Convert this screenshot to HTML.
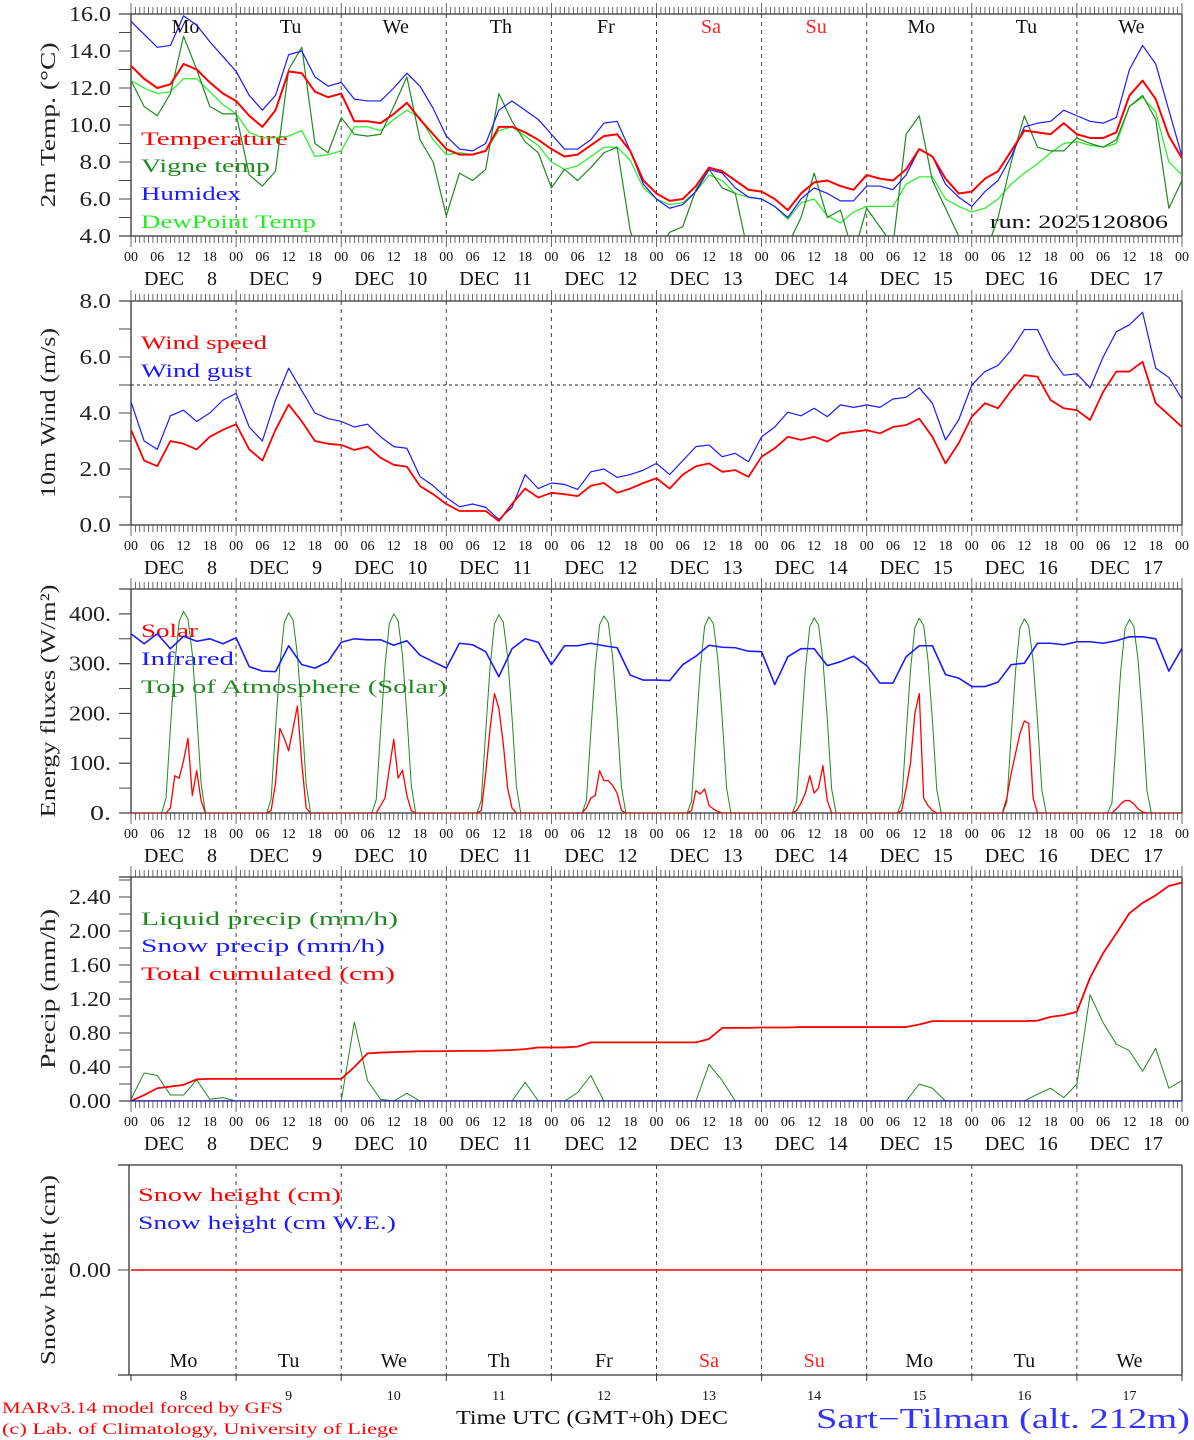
<!DOCTYPE html>
<html><head><meta charset="utf-8"><style>
html,body{margin:0;padding:0;background:#fff;}
svg{display:block;font-family:"Liberation Serif",serif;}
</style></head><body>
<svg id="chart" xmlns="http://www.w3.org/2000/svg" width="1194" height="1440" viewBox="0 0 1194 1440">
<rect x="0" y="0" width="1194" height="1440" fill="#fff"/>
</svg>
<script>
// ===== DATA (3-hourly unless noted) =====
const dayNums = [8,9,10,11,12,13,14,15,16,17];
const weekdays = ["Mo","Tu","We","Th","Fr","Sa","Su","Mo","Tu","We"];
const hourTicks = ["00","06","12","18"];
const tempTicks = [4,6,8,10,12,14,16];
const windTicks = [0,2,4,6,8];
const fluxTicks = [0,100,200,300,400];
const precipTicks = [0,0.4,0.8,1.2,1.6,2.0,2.4];

const temperature = [13.2,12.5,12.0,12.2,13.3,13.0,12.3,11.7,
 11.3,10.5,9.9,10.8,12.9,12.8,11.8,11.5,
 11.7,10.2,10.2,10.1,10.6,11.2,10.3,9.5,
 8.7,8.4,8.4,8.6,9.9,9.9,9.6,9.2,
 8.7,8.3,8.4,8.9,9.4,9.5,8.6,7.0,
 6.3,5.9,6.0,6.7,7.7,7.5,7.0,6.5,
 6.4,6.0,5.4,6.3,6.9,7.0,6.7,6.5,
 7.3,7.1,7.0,7.6,8.7,8.3,7.1,6.3,
 6.4,7.1,7.5,8.6,9.7,9.6,9.5,10.1,
 9.5,9.3,9.3,9.6,11.6,12.4,11.4,9.4,8.2];
const humidex = [15.6,14.9,14.2,14.3,15.9,15.4,14.5,13.7,
 12.9,11.6,10.8,11.6,13.8,14.0,12.6,12.1,
 12.3,11.4,11.3,11.3,12.0,12.8,12.1,10.9,
 9.4,8.7,8.6,9.0,10.8,11.3,10.8,10.3,
 9.5,8.7,8.7,9.2,10.1,10.2,8.6,6.8,
 6.0,5.5,5.7,6.4,7.6,7.4,6.6,6.1,
 6.0,5.6,5.0,6.0,6.6,6.3,5.9,5.9,
 6.7,6.7,6.5,7.3,8.7,8.3,6.8,6.1,
 5.6,6.4,7.0,8.3,9.9,10.1,10.2,10.8,
 10.5,10.2,10.1,10.4,13.0,14.3,13.3,10.8,8.3];
const dewpoint = [12.4,12.0,11.7,11.8,12.5,12.5,11.8,11.1,
 10.6,9.6,9.3,9.3,9.4,9.7,8.3,8.4,
 8.6,9.9,9.9,9.7,10.3,10.8,10.4,9.2,
 8.4,8.5,8.4,8.6,9.7,9.9,9.4,8.9,
 8.0,7.6,7.8,8.3,8.8,8.8,8.1,6.6,
 6.0,5.7,5.8,6.4,7.3,7.0,6.3,6.1,
 6.0,5.6,4.9,5.8,6.0,5.1,4.7,5.3,
 5.6,5.6,5.6,6.8,7.2,7.2,6.0,5.6,
 5.3,5.5,6.0,6.8,7.4,7.9,8.5,9.0,
 9.1,8.9,8.8,9.0,11.0,11.5,10.7,8.0,7.3];
const vigne = [12.4,11.0,10.5,11.7,14.8,13.0,11.0,10.6,
 10.6,7.3,6.7,7.5,13.0,14.2,9.0,8.5,
 10.4,9.5,9.4,9.5,11.0,12.6,9.2,8.0,
 5.1,7.4,7.0,7.6,11.7,10.2,9.1,8.5,
 6.6,7.6,7.0,7.7,8.5,8.8,4.3,2.0,
 3.0,4.2,4.5,6.5,7.6,6.6,6.3,3.0,
 4.0,2.0,3.5,5.0,7.4,5.0,5.4,3.0,
 5.5,4.5,3.5,9.5,10.5,7.0,5.5,4.0,
 3.0,3.0,5.0,8.0,10.5,8.8,8.6,8.6,
 9.3,9.0,8.8,9.2,11.0,11.6,10.3,5.5,7.0];

const windSpeed = [3.4,2.3,2.1,3.0,2.9,2.7,3.15,3.4,
 3.6,2.7,2.3,3.4,4.3,3.7,3.0,2.9,
 2.86,2.68,2.8,2.4,2.15,2.08,1.39,1.1,
 0.75,0.5,0.5,0.5,0.14,0.75,1.3,0.98,
 1.15,1.1,1.03,1.4,1.5,1.15,1.3,1.5,
 1.67,1.3,1.8,2.1,2.2,1.9,1.96,1.72,
 2.44,2.74,3.15,3.04,3.15,2.98,3.27,3.33,
 3.39,3.27,3.5,3.57,3.8,3.15,2.2,2.92,
 3.87,4.35,4.17,4.8,5.35,5.3,4.46,4.17,
 4.1,3.75,4.76,5.48,5.48,5.83,4.35,3.93,3.5];
const windGust = [4.4,3.0,2.7,3.9,4.1,3.7,4.0,4.46,
 4.7,3.5,3.0,4.46,5.6,4.8,4.0,3.8,
 3.7,3.5,3.6,3.15,2.8,2.74,1.73,1.4,
 0.98,0.65,0.75,0.63,0.2,0.63,1.8,1.3,
 1.5,1.45,1.27,1.9,2.0,1.7,1.8,1.96,
 2.2,1.8,2.3,2.8,2.86,2.44,2.56,2.26,
 3.15,3.5,4.03,3.9,4.17,3.87,4.29,4.2,
 4.29,4.2,4.5,4.56,4.9,4.35,3.04,3.75,
 5.0,5.48,5.7,6.25,6.98,6.98,6.0,5.35,
 5.4,4.9,6.0,6.9,7.15,7.6,5.6,5.27,4.5];

const infrared = [360,340,360,330,355,345,350,340,
 352,294,285,284,336,298,291,304,
 343,350,348,348,337,346,317,304,
 291,341,338,324,274,330,350,343,
 298,336,336,341,336,332,277,267,
 267,266,298,315,337,333,332,325,
 324,258,314,330,330,296,304,315,
 296,261,261,314,336,336,278,271,
 254,254,263,298,301,341,341,338,
 344,344,341,346,354,354,350,285,331];

// hourly (24 per day + final)
const toaSolar = [
 0,0,0,0,0,0,0,0,30,170,300,385,405,390,320,200,60,0,0,0,0,0,0,0,
 0,0,0,0,0,0,0,0,28,168,298,383,402,388,318,198,58,0,0,0,0,0,0,0,
 0,0,0,0,0,0,0,0,27,166,296,381,400,386,316,196,56,0,0,0,0,0,0,0,
 0,0,0,0,0,0,0,0,26,164,294,380,398,384,314,194,54,0,0,0,0,0,0,0,
 0,0,0,0,0,0,0,0,25,162,292,378,396,382,312,192,52,0,0,0,0,0,0,0,
 0,0,0,0,0,0,0,0,24,160,290,376,394,380,310,190,50,0,0,0,0,0,0,0,
 0,0,0,0,0,0,0,0,23,158,288,374,392,378,308,188,48,0,0,0,0,0,0,0,
 0,0,0,0,0,0,0,0,22,157,287,373,391,377,307,187,47,0,0,0,0,0,0,0,
 0,0,0,0,0,0,0,0,21,156,286,372,390,376,306,186,46,0,0,0,0,0,0,0,
 0,0,0,0,0,0,0,0,20,155,285,371,389,375,305,185,45,0,0,0,0,0,0,0,0];
const solar = [
 0,0,0,0,0,0,0,0,0,10,75,70,105,150,35,85,25,0,0,0,0,0,0,0,
 0,0,0,0,0,0,0,0,5,60,170,150,125,170,215,100,10,0,0,0,0,0,0,0,
 0,0,0,0,0,0,0,0,0,15,30,90,148,70,86,35,5,0,0,0,0,0,0,0,
 0,0,0,0,0,0,0,0,5,80,170,240,210,140,50,10,0,0,0,0,0,0,0,0,
 0,0,0,0,0,0,0,0,10,30,35,85,65,65,55,40,5,0,0,0,0,0,0,0,
 0,0,0,0,0,0,0,0,5,45,38,48,15,8,3,0,0,0,0,0,0,0,0,0,
 0,0,0,0,0,0,0,0,5,20,40,75,40,50,95,25,0,0,0,0,0,0,0,0,
 0,0,0,0,0,0,0,0,5,50,100,200,240,30,15,5,0,0,0,0,0,0,0,0,
 0,0,0,0,0,0,0,0,30,80,120,160,185,180,30,0,0,0,0,0,0,0,0,0,
 0,0,0,0,0,0,0,0,0,8,18,25,25,18,8,2,0,0,0,0,0,0,0,0,0];

const liquidPrecip = [0.02,0.33,0.30,0.07,0.07,0.25,0.02,0.04,
 0,0,0,0,0,0,0,0,
 0,0.93,0.24,0.02,0,0.09,0,0,
 0,0,0,0,0,0,0.22,0,
 0,0,0.10,0.30,0,0,0,0,
 0,0,0,0,0.43,0.24,0,0,
 0,0,0,0,0,0,0,0,
 0,0,0,0,0.2,0.15,0,0,
 0,0,0,0,0,0.08,0.15,0.04,
 0.2,1.25,0.92,0.67,0.59,0.35,0.62,0.15,0.24];
const cumulated = [0,0.07,0.15,0.17,0.19,0.255,0.26,0.26,
 0.26,0.26,0.26,0.26,0.26,0.26,0.26,0.26,
 0.26,0.40,0.56,0.57,0.575,0.58,0.585,0.585,
 0.587,0.59,0.59,0.59,0.595,0.60,0.61,0.63,
 0.63,0.63,0.64,0.69,0.69,0.69,0.69,0.69,
 0.69,0.69,0.69,0.69,0.73,0.86,0.86,0.86,
 0.865,0.865,0.865,0.87,0.87,0.87,0.87,0.87,
 0.87,0.87,0.87,0.87,0.90,0.94,0.94,0.94,
 0.94,0.94,0.94,0.94,0.94,0.945,0.99,1.01,
 1.05,1.45,1.74,1.97,2.21,2.33,2.42,2.53,2.57];
const snowPrecip = [0,0,0,0,0,0,0,0,0,0,0];
const snowHeight = [0,0,0,0,0,0,0,0,0,0,0];

// ===== LAYOUT =====
const svg = document.getElementById('chart');
const NS = 'http://www.w3.org/2000/svg';
const X0 = 131, X1 = 1182, HOURS = 240;
function xAt(h){ return X0 + h*(X1-X0)/HOURS; }
const panels = {
  temp:{top:14,bot:236,min:4,max:16},
  wind:{top:301,bot:525,min:0,max:8},
  flux:{top:589,bot:813,min:0,max:450},
  prec:{top:877,bot:1101,min:0,max:(1101-877)/85},
  snow:{top:1165,bot:1375,min:-1,max:1}
};
function yScale(p){ return v => p.bot - (v-p.min)*(p.bot-p.top)/(p.max-p.min); }

function mk(tag, name, interact, attrs, parent){
  const el = document.createElementNS(NS, tag);
  
  
  for (const k in attrs) el.setAttribute(k, attrs[k]);
  (parent||svg).appendChild(el);
  return el;
}
function txt(str, name, attrs, parent){
  const t = mk('text', name, 'false', attrs, parent);
  t.textContent = str;
  return t;
}
function line(name, x1,y1,x2,y2, stroke, w, dash, parent){
  const a = {x1:x1,y1:y1,x2:x2,y2:y2,stroke:stroke,'stroke-width':w||1};
  if (dash) a['stroke-dasharray']=dash;
  return mk('line', name, 'false', a, parent);
}
function series(arr, stepH, p, color, width, name, clipId){
  const y = yScale(p);
  const pts = arr.map((v,i)=> xAt(i*stepH).toFixed(2)+','+y(v).toFixed(2)).join(' ');
  const pl = mk('polyline', name, 'false', {points:pts, fill:'none', stroke:color, 'stroke-width':width, 'stroke-linejoin':'round', 'clip-path':'url(#'+clipId+')'});
  return pl;
}

const defs = document.createElementNS(NS,'defs');
svg.appendChild(defs);
function clip(id,p){
  const c = document.createElementNS(NS,'clipPath'); c.setAttribute('id',id);
  const r = document.createElementNS(NS,'rect');
  r.setAttribute('x',X0); r.setAttribute('y',p.top); r.setAttribute('width',X1-X0); r.setAttribute('height',p.bot-p.top);
  c.appendChild(r); defs.appendChild(c);
}
function yTitle(str, cy, len, g){
  txt(str, 'y-axis-title', {x:0, y:0, 'font-size':21, 'text-anchor':'middle', fill:'#222', textLength:len, lengthAdjust:'spacingAndGlyphs', transform:'translate(55,'+cy+') rotate(-90)'}, g);
}
function tickLabel(str, yy, g){
  txt(str, 'y-tick-label', {x:111, y:yy+7, 'font-size':21, 'text-anchor':'end', fill:'#222', textLength:str.length*10.5, lengthAdjust:'spacingAndGlyphs'}, g);
}

function frame(key, p, ticks, minorStep, fmt, title, titleLen, withHours){
  const y = yScale(p);
  const g = mk('g', key+'-panel', 'false', {});
  clip('clip-'+key, p);
  for (let d=1; d<10; d++){
    line('day-divider', xAt(d*24), p.top, xAt(d*24), p.bot, '#444', 1, '4,4', g);
  }
  line('top-axis', 119, p.top, X1, p.top, '#333', 1.3, null, g);
  line('bottom-axis', 119, p.bot, X1, p.bot, '#333', 1.3, null, g);
  line('left-axis', X0, p.top, X0, p.bot, '#333', 1.3, null, g);
  line('right-axis', X1, p.top, X1, p.bot, '#333', 1.3, null, g);
  if (withHours){
    for (let h=0; h<=HOURS; h++){
      const len = (h%24===0)?11:7;
      line('x-tick', xAt(h), p.top-len, xAt(h), p.top, '#444', 0.8, null, g);
      line('x-tick', xAt(h), p.bot, xAt(h), p.bot+len, '#444', 0.8, null, g);
    }
    for (let d=0; d<=10; d++){
      for (let k=0; k<4; k++){
        if (d===10 && k>0) break;
        txt(hourTicks[k], 'hour-label', {x:xAt(d*24+k*6), y:p.bot+25, 'font-size':14, 'text-anchor':'middle', fill:'#111'}, g);
      }
    }
    for (let d=0; d<10; d++){
      txt('DEC', 'date-label', {x:xAt(d*24)+33, y:p.bot+49, 'font-size':20, 'text-anchor':'middle', fill:'#111'}, g);
      txt(String(dayNums[d]), 'date-label', {x:xAt(d*24)+(dayNums[d]<10?81:76), y:p.bot+49, 'font-size':20, 'text-anchor':'middle', fill:'#111'}, g);
    }
  }
  if (minorStep){
    for (let v=p.min; v<=p.max+1e-9; v+=minorStep){
      line('y-tick', 119, y(v), X0, y(v), '#444', 1, null, g);
    }
  }
  ticks.forEach(v=>{
    line('y-tick', 119, y(v), X0, y(v), '#444', 1, null, g);
    tickLabel(fmt(v), y(v), g);
  });
  yTitle(title, (p.top+p.bot)/2, titleLen, g);
  return g;
}
function legend(str, name, x, yb, color, w, g){
  txt(str, name, {x:x, y:yb, 'font-size':19, fill:color, textLength:w, lengthAdjust:'spacingAndGlyphs'}, g);
}

// ===== PANEL 1: temperature =====
let g = frame('temp', panels.temp, tempTicks, 1, v=>v.toFixed(1), '2m Temp. (\u00B0C)', 165, true);
for (let d=0; d<10; d++){
  txt(weekdays[d], 'weekday-label', {x:xAt(d*24+12)+2, y:33, 'font-size':20, 'text-anchor':'middle', fill:(d===5||d===6)?'#ff2020':'#111'}, g);
}
series(dewpoint, 3, panels.temp, '#22ee22', 1.2, 'dewpoint-line', 'clip-temp');
series(vigne, 3, panels.temp, '#1e8a1e', 1.2, 'vigne-temp-line', 'clip-temp');
series(humidex, 3, panels.temp, '#1a1aff', 1.2, 'humidex-line', 'clip-temp');
series(temperature, 3, panels.temp, '#ff0000', 2, 'temperature-line', 'clip-temp');
legend('Temperature', 'legend-temperature', 141, 145, '#ff0000', 147, g);
legend('Vigne temp', 'legend-vigne-temp', 141, 172, '#1e8a1e', 129, g);
legend('Humidex', 'legend-humidex', 141, 200, '#1a1aff', 100, g);
legend('DewPoint Temp', 'legend-dewpoint', 141, 228, '#22ee22', 175, g);
legend('run: 2025120806', 'run-label', 990, 228, '#111', 178, g);

// ===== PANEL 2: wind =====
g = frame('wind', panels.wind, windTicks, 1, v=>v.toFixed(1), '10m Wind (m/s)', 170, true);
line('threshold-5ms', X0, yScale(panels.wind)(5), X1, yScale(panels.wind)(5), '#222', 1, '3,3', g);
series(windGust, 3, panels.wind, '#1a1aff', 1.2, 'wind-gust-line', 'clip-wind');
series(windSpeed, 3, panels.wind, '#ff0000', 1.8, 'wind-speed-line', 'clip-wind');
legend('Wind speed', 'legend-wind-speed', 141, 349, '#ff0000', 126, g);
legend('Wind gust', 'legend-wind-gust', 141, 377, '#1a1aff', 111, g);

// ===== PANEL 3: energy fluxes =====
g = frame('flux', panels.flux, fluxTicks, 50, v=>v.toFixed(0)+'.', 'Energy fluxes (W/m\u00B2)', 233, true);
series(toaSolar, 1, panels.flux, '#1e8a1e', 1, 'toa-solar-line', 'clip-flux');
series(solar, 1, panels.flux, '#ff0000', 1.3, 'solar-line', 'clip-flux');
series(infrared, 3, panels.flux, '#1a1aff', 1.6, 'infrared-line', 'clip-flux');
legend('Solar', 'legend-solar', 141, 637, '#ff0000', 57, g);
legend('Infrared', 'legend-infrared', 141, 665, '#1a1aff', 93, g);
legend('Top of Atmosphere (Solar)', 'legend-toa', 141, 693, '#1e8a1e', 306, g);

// ===== PANEL 4: precipitation =====
g = frame('prec', panels.prec, precipTicks, 0.2, v=>v.toFixed(2), 'Precip (mm/h)', 160, true);
series(liquidPrecip, 3, panels.prec, '#1e8a1e', 1, 'liquid-precip-line', 'clip-prec');
series(cumulated, 3, panels.prec, '#ff0000', 1.8, 'cumulated-precip-line', 'clip-prec');
series(snowPrecip, 24, panels.prec, '#1a1aff', 1.6, 'snow-precip-line', 'clip-prec');
legend('Liquid precip (mm/h)', 'legend-liquid', 141, 925, '#1e8a1e', 257, g);
legend('Snow precip (mm/h)', 'legend-snow-precip', 141, 952, '#1a1aff', 244, g);
legend('Total cumulated (cm)', 'legend-cumulated', 141, 980, '#ff0000', 254, g);

// ===== PANEL 5: snow height =====
const ps = panels.snow;
g = mk('g', 'snow-panel', 'false', {});
clip('clip-snow', ps);
for (let d=1; d<10; d++){
  line('day-divider', xAt(d*24), ps.top, xAt(d*24), ps.bot, '#444', 1, '4,4', g);
}
line('top-axis', 118, ps.top, X1, ps.top, '#333', 1.3, null, g);
line('bottom-axis', 118, ps.bot, X1, ps.bot, '#333', 1.3, null, g);
line('left-axis', 129, ps.top, 129, ps.bot, '#333', 1.3, null, g);
line('right-axis', X1, ps.top, X1, ps.bot, '#333', 1.3, null, g);
for (let d=0; d<=10; d++){
  line('x-tick', xAt(d*24), ps.bot, xAt(d*24), ps.bot+6, '#333', 1, null, g);
}
line('y-tick', 118, yScale(ps)(0), 129, yScale(ps)(0), '#444', 1, null, g);
tickLabel('0.00', yScale(ps)(0), g);
yTitle('Snow height (cm)', 1270, 190, g);
series(snowHeight, 24, ps, '#ff0000', 1.5, 'snow-height-line', 'clip-snow');
legend('Snow height (cm)', 'legend-snow-height', 138, 1201, '#ff0000', 203, g);
legend('Snow height (cm W.E.)', 'legend-snow-we', 138, 1229, '#1a1aff', 258, g);
for (let d=0; d<10; d++){
  txt(weekdays[d], 'weekday-label', {x:xAt(d*24+12), y:1367, 'font-size':20, 'text-anchor':'middle', fill:(d===5||d===6)?'#ff2020':'#111'}, g);
  txt(String(dayNums[d]), 'day-number', {x:xAt(d*24+12), y:1400, 'font-size':14, 'text-anchor':'middle', fill:'#111'}, g);
}

// ===== footer =====
txt('MARv3.14 model forced by GFS', 'credit-model', {x:2, y:1413, 'font-size':16, fill:'#ff0000', textLength:281, lengthAdjust:'spacingAndGlyphs'});
txt('(c) Lab. of Climatology, University of Liege', 'credit-lab', {x:2, y:1434, 'font-size':16, fill:'#ff0000', textLength:396, lengthAdjust:'spacingAndGlyphs'});
txt('Time UTC (GMT+0h) DEC', 'x-axis-title', {x:456, y:1424, 'font-size':20, fill:'#111', textLength:272, lengthAdjust:'spacingAndGlyphs'});
txt('Sart\u2212Tilman (alt. 212m)', 'station-title', {x:816, y:1428, 'font-size':28, fill:'#3333ff', textLength:374, lengthAdjust:'spacingAndGlyphs'});
</script>
</body></html>
